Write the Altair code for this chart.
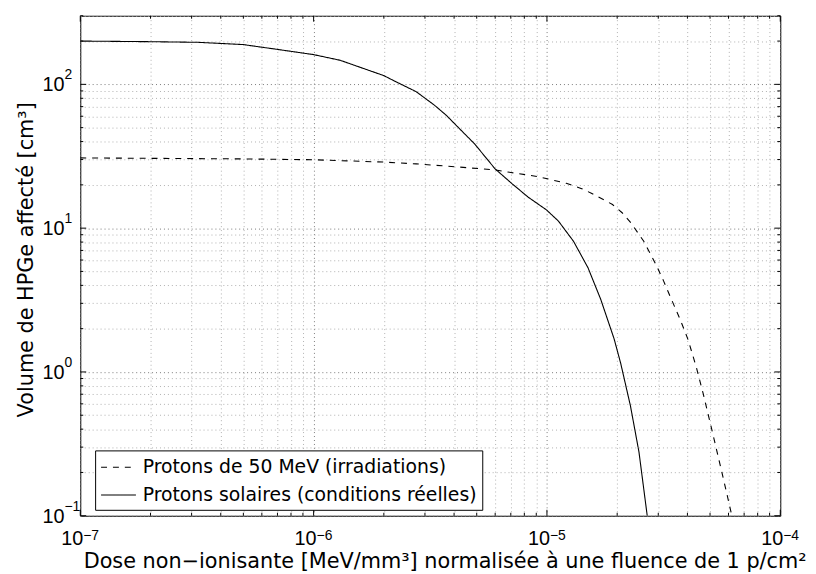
import altair as alt
import pandas as pd

# ---- data ----
SERIES = ["Protons de 50 MeV (irradiations)", "Protons solaires (conditions réelles)"]

X_DASH = [1e-7, 5e-7, 1e-6, 2e-6, 2.75e-6, 4.07e-6, 6e-6, 7e-6, 9.2e-6, 1.21e-5,
          1.4e-5, 1.55e-5, 1.91e-5, 2.1e-5, 2.29e-5, 2.6e-5, 2.78e-5, 2.95e-5,
          3.16e-5, 3.29e-5, 3.73e-5, 4.03e-5, 4.38e-5, 4.68e-5, 5.24e-5,
          5.87e-5, 6.2e-5]
Y_DASH = [30.8, 30.3, 29.9, 28.8, 28.0, 26.7, 25.4, 24.4, 22.8, 20.5,
          18.9, 17.5, 14.6, 12.8, 10.9, 8.1, 6.6, 5.47,
          4.3, 3.68, 2.3, 1.67, 1.06, 0.70, 0.325,
          0.148, 0.1]

X_SOLID = [1e-7, 2e-7, 3.2e-7, 5e-7, 7e-7, 1e-6, 1.3e-6, 2e-6, 2.26e-6, 2.75e-6,
           3.3e-6, 3.7e-6, 4.9e-6, 6e-6, 7.08e-6, 8.32e-6, 9.95e-6, 1.12e-5,
           1.3e-5, 1.5e-5, 1.7e-5, 1.94e-5, 2.07e-5, 2.28e-5, 2.48e-5, 2.69e-5]
Y_SOLID = [200, 198, 196, 189, 175, 161, 147, 115, 104, 89,
           71.5, 61, 38.5, 25.8, 20.4, 16.4, 13.4, 11.2,
           8.1, 5.3, 3.2, 1.7, 1.15, 0.58, 0.277, 0.1]

X_DECADES = [1e-7, 1e-6, 1e-5, 1e-4]
X_EXP = ["−7", "−6", "−5", "−4"]
Y_DECADES = [0.1, 1.0, 10.0, 100.0]
Y_EXP = ["−1", "0", "1", "2"]
TICK_BASE = "10"
Y_MAX = 300

X_TITLE = "Dose non−ionisante [MeV/mm³] normalisée à une fluence de 1 p/cm²"
Y_TITLE = "Volume de HPGe affecté [cm³]"

FONT = "DejaVu Sans"
TICK_FONT = "Liberation Sans"
W, H = 707, 505

# ---- tables ----
rows = []
for x, y in zip(X_DASH, Y_DASH):
    rows.append({"x": x, "y": y, "s": SERIES[0], "o": len(rows)})
for x, y in zip(X_SOLID, Y_SOLID):
    rows.append({"x": x, "y": y, "s": SERIES[1], "o": len(rows)})
df = pd.DataFrame(rows)

x_vals = [m * d for d in X_DECADES[:-1] for m in range(1, 10)] + [X_DECADES[-1]]
y_vals = [m * d for d in Y_DECADES for m in range(1, 10) if m * d <= Y_MAX]

is_dec = "abs(log(datum.value)/LN10 - round(log(datum.value)/LN10)) < 1e-6"
grid_color = {"condition": {"test": is_dec, "value": "#7a7a7a"}, "value": "#b0b0b0"}

x_scale = alt.Scale(type="log", domain=[X_DECADES[0], X_DECADES[-1]], nice=False)
y_scale = alt.Scale(type="log", domain=[Y_DECADES[0], Y_MAX], nice=False)

x_axis = alt.Axis(values=x_vals, labels=False, ticks=False, tickSize=0, domain=False,
                  title=X_TITLE, titleFont=FONT, titleFontSize=21, titleFontWeight="normal",
                  titleColor="black", titleX=368, titleY=52, titleAlign="center",
                  titleBaseline="alphabetic",
                  grid=True, gridDash=[1, 3], gridColor=grid_color, gridWidth=1)
y_axis = alt.Axis(values=y_vals, labels=False, ticks=False, tickSize=0, domain=False,
                  title=Y_TITLE, titleFont=FONT, titleFontSize=21, titleFontWeight="normal",
                  titleColor="black", titleX=-48, titleY=246, titleAngle=270,
                  titleAlign="center", titleBaseline="alphabetic",
                  grid=True, gridDash=[1, 3], gridColor=grid_color, gridWidth=1)

lines = alt.Chart(df).mark_line(color="black", strokeWidth=1.1, clip=True).encode(
    x=alt.X("x:Q", scale=x_scale, axis=x_axis),
    y=alt.Y("y:Q", scale=y_scale, axis=y_axis),
    strokeDash=alt.StrokeDash(
        "s:N",
        scale=alt.Scale(domain=SERIES, range=[[6, 6], [1, 0]]),
        legend=alt.Legend(title=None, orient="none", legendX=15, legendY=439,
                          fillColor="white", strokeColor="black", padding=5,
                          cornerRadius=0, symbolType="M-1,0H2.2", symbolSize=484,
                          symbolStrokeWidth=1.1, symbolStrokeColor="black",
                          labelFont=FONT, labelFontSize=19, labelColor="black",
                          labelOffset=19, rowPadding=6, labelLimit=500),
    ),
    order="o:Q",
)

# inward tick marks on all four sides
xt = pd.DataFrame({"v": x_vals})
xt["major"] = [any(abs(v / d - 1) < 1e-9 for d in X_DECADES) for v in x_vals]
yt = pd.DataFrame({"v": y_vals})
yt["major"] = [any(abs(v / d - 1) < 1e-9 for d in Y_DECADES) for v in y_vals]

def xticks(flt, ln):
    base = alt.Chart(xt).transform_filter(flt)
    b = base.mark_rule(color="black", strokeWidth=1).encode(
        x=alt.X("v:Q", scale=x_scale), y=alt.value(H), y2=alt.value(H - ln))
    t = base.mark_rule(color="black", strokeWidth=1).encode(
        x=alt.X("v:Q", scale=x_scale), y=alt.value(0), y2=alt.value(ln))
    return [b, t]

def yticks(flt, ln):
    base = alt.Chart(yt).transform_filter(flt)
    l = base.mark_rule(color="black", strokeWidth=1).encode(
        y=alt.Y("v:Q", scale=y_scale), x=alt.value(0), x2=alt.value(ln))
    r = base.mark_rule(color="black", strokeWidth=1).encode(
        y=alt.Y("v:Q", scale=y_scale), x=alt.value(W), x2=alt.value(W - ln))
    return [l, r]

tick_layers = (xticks("datum.major", 6) + xticks("!datum.major", 3)
               + yticks("datum.major", 6) + yticks("!datum.major", 3))

# tick labels: "10" with a raised exponent, as in the reference
xl = alt.Chart(pd.DataFrame({"v": X_DECADES, "e": X_EXP}))
yl = alt.Chart(pd.DataFrame({"v": Y_DECADES, "e": Y_EXP}))
label_layers = [
    xl.mark_text(align="right", baseline="alphabetic", font=TICK_FONT, fontSize=20,
                 color="black", dx=3).encode(
        x=alt.X("v:Q", scale=x_scale), y=alt.value(H + 30), text=alt.value(TICK_BASE)),
    xl.mark_text(align="left", baseline="alphabetic", font=TICK_FONT, fontSize=14,
                 color="black", dx=3).encode(
        x=alt.X("v:Q", scale=x_scale), y=alt.value(H + 24), text="e:N"),
    yl.mark_text(align="right", baseline="alphabetic", font=TICK_FONT, fontSize=20,
                 color="black", dy=7).encode(
        y=alt.Y("v:Q", scale=y_scale), x=alt.value(-16), text=alt.value(TICK_BASE)),
    yl.mark_text(align="left", baseline="alphabetic", font=TICK_FONT, fontSize=14,
                 color="black", dy=-5).encode(
        y=alt.Y("v:Q", scale=y_scale), x=alt.value(-16), text="e:N"),
]

chart = alt.layer(lines, *tick_layers, *label_layers).properties(
    width=W, height=H,
    autosize=alt.AutoSizeParams(type="none"),
    padding={"left": 73, "top": 5, "right": 28, "bottom": 54},
    background="white",
).configure_view(stroke="black", strokeWidth=1)

chart.save("out.html", embed_options={"renderer": "svg", "actions": False})
